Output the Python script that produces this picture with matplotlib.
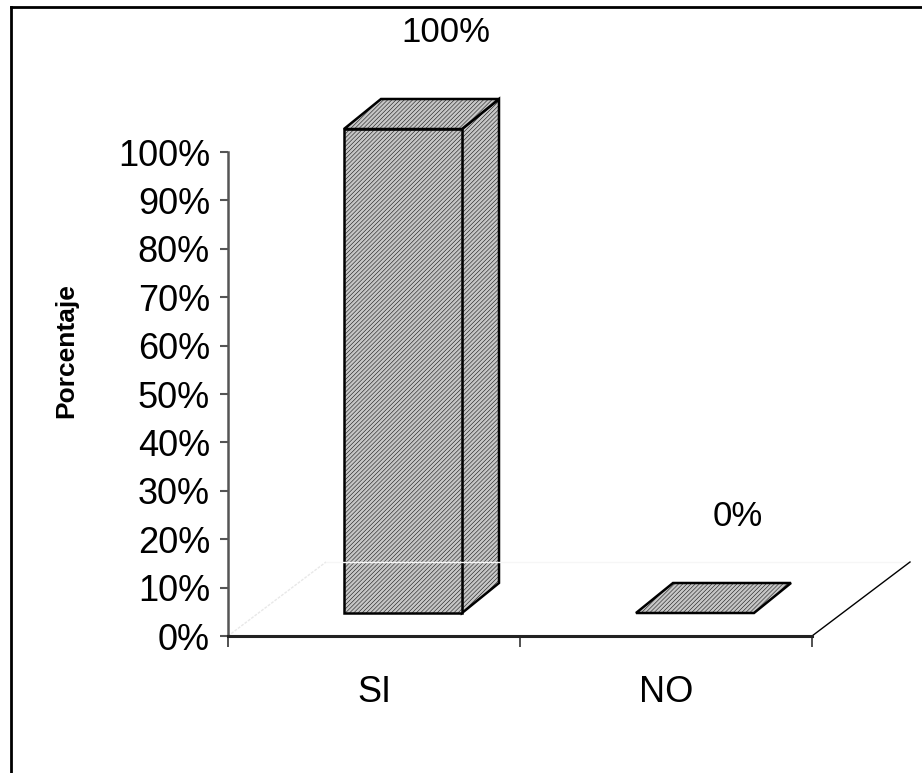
"""3D-style bar chart: Porcentaje SI / NO."""

import matplotlib

matplotlib.use("Agg")
import matplotlib.pyplot as plt
from matplotlib.lines import Line2D
from matplotlib.patches import Polygon

categories = ["SI", "NO"]
values = [100, 0]
y_ticks = list(range(0, 101, 10))
y_tick_labels = [f"{t}%" for t in y_ticks]

plt.rcParams["font.family"] = ["Liberation Sans", "DejaVu Sans"]
plt.rcParams["hatch.color"] = "#ababab"
plt.rcParams["hatch.linewidth"] = 0.35

W, H = 922, 773
fig = plt.figure(figsize=(W / 100, H / 100), dpi=100)
# plot area in pixels: x 228..812, y(0%) 636 .. y(100%) 152
ax = fig.add_axes([228 / W, (H - 636) / H, 584 / W, 484 / H])
ax.set_xlim(0, len(categories))
ax.set_ylim(0, 100)

px_x = len(categories) / 584  # data units per pixel
px_y = 100 / 484

face = "#c6c6c6"
front_dx, front_dy = 29, 23  # bar front offset from axis plane (px)
depth_dx, depth_dy = 37, 30  # bar depth (px)
half_w = 59  # half width of bar front (px)


def poly(pts):
    p = Polygon(pts, closed=True, facecolor=face, edgecolor="black", lw=1.8,
                hatch="////////", clip_on=False, joinstyle="miter")
    ax.add_patch(p)


for i, v in enumerate(values):
    cx = i + 0.5 + front_dx * px_x
    x0, x1 = cx - half_w * px_x, cx + half_w * px_x
    y0 = front_dy * px_y
    y1 = y0 + v
    ddx, ddy = depth_dx * px_x, depth_dy * px_y
    if v > 0:
        poly([(x1, y0), (x1 + ddx, y0 + ddy), (x1 + ddx, y1 + ddy), (x1, y1)])
        poly([(x0, y0), (x1, y0), (x1, y1), (x0, y1)])
    poly([(x0, y1), (x1, y1), (x1 + ddx, y1 + ddy), (x0 + ddx, y1 + ddy)])
    ax.text(i + 0.5 + 72 * px_x, y1 + 96 * px_y, f"{v}%", ha="center",
            va="center", fontsize=25, clip_on=False)

# floor / walls of the 3D frame
back_dx, back_dy = 98 * px_x, 74 * px_y
ax.add_line(Line2D([0, back_dx], [0, back_dy], color="#e8e8e8", lw=1,
                   ls=(0, (2, 1)), clip_on=False))
ax.add_line(Line2D([back_dx, len(categories) + back_dx], [back_dy, back_dy],
                   color="#f6f6f6", lw=1, clip_on=False))
ax.add_line(Line2D([len(categories), len(categories) + back_dx], [0, back_dy],
                   color="black", lw=1, clip_on=False))

for side in ["top", "right"]:
    ax.spines[side].set_visible(False)
ax.spines["left"].set_color("#555555")
ax.spines["left"].set_linewidth(1.8)
ax.spines["bottom"].set_color("#222222")
ax.spines["bottom"].set_linewidth(2.2)
ax.patch.set_alpha(0)

ax.set_yticks(y_ticks)
ax.set_yticklabels(y_tick_labels)
ax.tick_params(axis="y", direction="out", length=6, width=1.5, color="#555555",
               pad=7, labelsize=26)
ax.set_xticks(range(len(categories) + 1))
ax.set_xticklabels([])
ax.tick_params(axis="x", which="major", direction="out", length=8, width=1.2,
               color="#333333")
ax.set_xticks([i + 0.5 for i in range(len(categories))], minor=True)
ax.set_xticklabels(categories, minor=True)
ax.tick_params(axis="x", which="minor", length=0, pad=28, labelsize=26)

fig.text(66 / W, 1 - 351 / H, "Porcentaje", rotation=90, ha="center",
         va="center", fontsize=19, fontweight="bold",
         family=["Liberation Sans"])

# chart border (left and top edges visible)
fig.add_artist(Line2D([10.5 / W, 10.5 / W], [0, 1 - 7 / H], color="black",
                      lw=2, transform=fig.transFigure))
fig.add_artist(Line2D([10.5 / W, 1], [1 - 7 / H, 1 - 7 / H], color="black",
                      lw=2, transform=fig.transFigure))

fig.savefig("out.png", dpi=100)
